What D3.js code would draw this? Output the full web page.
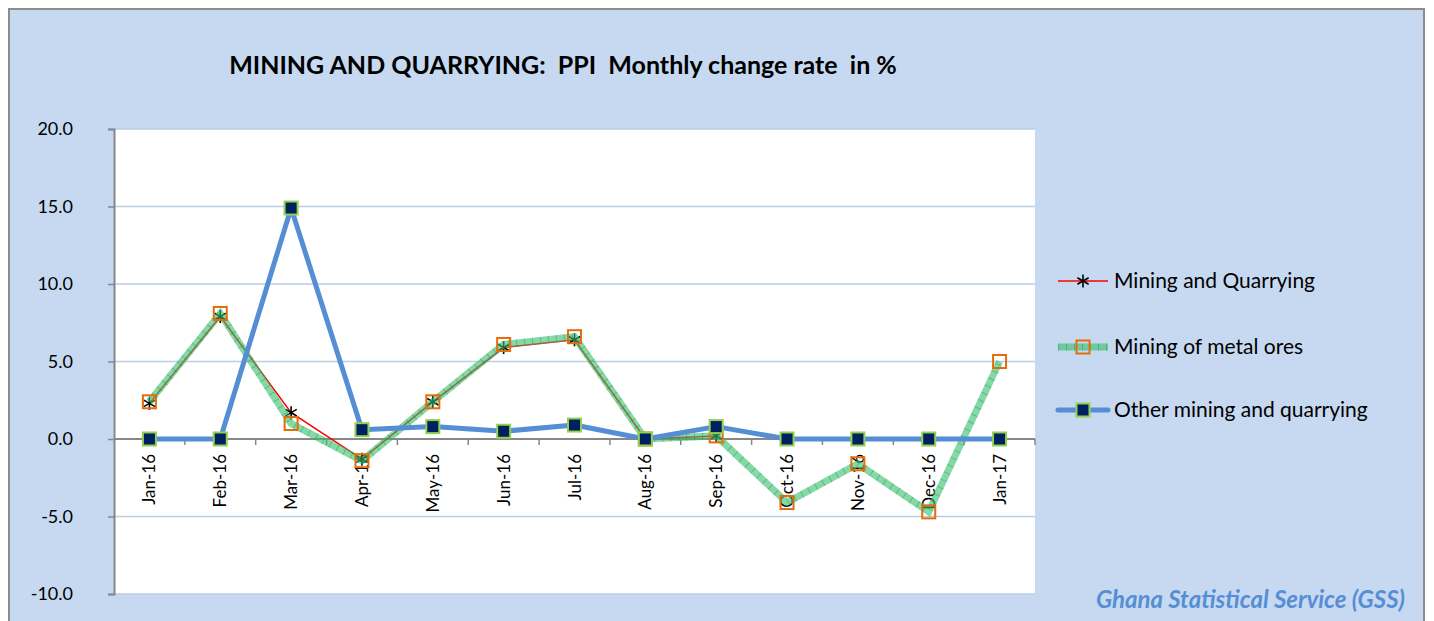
<!DOCTYPE html>
<html lang="en">
<head>
<meta charset="utf-8"/>
<script src="https://d3js.org/d3.v7.min.js"></script>
<style>
  body { margin:0; background:#fff; }
  text { font-family: Lato, "Open Sans", sans-serif; }
</style>
</head>
<body>
<svg id="chart" width="1434" height="621"></svg>
<script>
const months = ["Jan-16","Feb-16","Mar-16","Apr-16","May-16","Jun-16","Jul-16","Aug-16","Sep-16","Oct-16","Nov-16","Dec-16","Jan-17"];
const miningQuarrying = [2.3, 7.9, 1.7, -1.3, 2.4, 5.9, 6.4, 0.0, 0.2, null, null, null, null];
const metalOres = [2.4, 8.1, 1.0, -1.4, 2.4, 6.1, 6.6, 0.0, 0.2, -4.1, -1.6, -4.7, 5.0];
const otherMining = [0.0, 0.0, 14.9, 0.6, 0.8, 0.5, 0.9, 0.0, 0.8, 0.0, 0.0, 0.0, 0.0];
const yTicks = [-10, -5, 0, 5, 10, 15, 20];
const seriesNames = ["Mining and Quarrying", "Mining of metal ores", "Other mining and quarrying"];

const svg = d3.select("#chart");

// outer frame
svg.append("rect").attr("x",9).attr("y",9).attr("width",1415).attr("height",640)
  .style("fill","#C6D9F0").style("stroke","#8c8c8c").style("stroke-width",2);

const plotLeft = 114, plotRight = 1035, plotTop = 129, plotBottom = 594;
svg.append("rect").attr("x",plotLeft).attr("y",plotTop)
  .attr("width",plotRight-plotLeft).attr("height",plotBottom-plotTop)
  .style("fill","white");

const x = d3.scaleBand().domain(months).range([plotLeft, plotRight]);
const y = d3.scaleLinear().domain([-10, 20]).range([plotBottom, plotTop]);
const cx = d => x(d) + x.bandwidth()/2;

// gridlines
svg.selectAll(".grid").data(yTicks.filter(t => t !== 0)).enter()
  .append("line")
  .attr("x1",plotLeft).attr("x2",plotRight)
  .attr("y1",d => y(d)).attr("y2",d => y(d))
  .style("stroke","#B9CDE5").style("stroke-width",1.5);

// y axis
const yAxis = svg.append("g").attr("transform","translate("+plotLeft+",0)")
  .call(d3.axisLeft(y).tickValues(yTicks).tickFormat(d => d.toFixed(1)).tickSize(6).tickPadding(35));
yAxis.select(".domain").style("stroke","#878787").style("stroke-width",2);
yAxis.selectAll(".tick line").style("stroke","#878787").style("stroke-width",1.5);
yAxis.selectAll(".tick text").style("font-size","18px").style("fill","#000")
  .style("font-family","Lato, 'Open Sans', sans-serif");

// zero line with category ticks
svg.append("line").attr("x1",plotLeft).attr("x2",plotRight)
  .attr("y1",y(0)).attr("y2",y(0))
  .style("stroke","#878787").style("stroke-width",2);
svg.selectAll(".xtick").data(months).enter()
  .append("line")
  .attr("x1",(d,i) => plotLeft + (i+1)*x.step()).attr("x2",(d,i) => plotLeft + (i+1)*x.step())
  .attr("y1",y(0)).attr("y2",y(0)+6)
  .style("stroke","#878787").style("stroke-width",1.5);

// x labels
svg.selectAll(".xlab").data(months).enter()
  .append("text")
  .attr("transform",d => "translate("+(cx(d)+6)+","+(y(0)+15)+") rotate(-90)")
  .attr("text-anchor","end")
  .style("font-size","17px")
  .text(d => d);

const line = d3.line().defined(d => d !== null).x((d,i) => cx(months[i])).y(d => y(d));

// series 1: red line with asterisks
svg.append("path").datum(miningQuarrying).attr("d",line)
  .style("fill","none").style("stroke","#FF0000").style("stroke-width",1.5);

function asterisk(g, px, py, r) {
  [0, 60, 120].forEach(a => {
    const rad = a * Math.PI / 180;
    g.append("line")
      .attr("x1", px - r*Math.sin(rad)).attr("y1", py - r*Math.cos(rad))
      .attr("x2", px + r*Math.sin(rad)).attr("y2", py + r*Math.cos(rad))
      .style("stroke","#000").style("stroke-width",1.6);
  });
}
const astG = svg.append("g");
miningQuarrying.forEach((v,i) => { if (v !== null) asterisk(astG, cx(months[i]), y(v), 6.5); });

// series 2: green thick hatched line
svg.append("path").datum(metalOres).attr("d",line)
  .style("fill","none").style("stroke","#35C06C").style("stroke-opacity",0.6).style("stroke-width",7);
svg.append("path").datum(metalOres).attr("d",line)
  .style("fill","none").style("stroke","#24964F").style("stroke-opacity",0.45)
  .style("stroke-width",7).style("stroke-dasharray","1,7");

// orange hollow squares
svg.selectAll(".sq2").data(metalOres).enter()
  .append("rect")
  .attr("x",(d,i) => cx(months[i]) - 6.5).attr("y",d => y(d) - 6.5)
  .attr("width",13).attr("height",13)
  .style("fill","none").style("stroke","#E46C0A").style("stroke-width",2);

// series 3: blue line with navy squares
svg.append("path").datum(otherMining).attr("d",line)
  .style("fill","none").style("stroke","#558ED5").style("stroke-width",5)
  .style("stroke-linejoin","round");
svg.selectAll(".sq3").data(otherMining).enter()
  .append("rect")
  .attr("x",(d,i) => cx(months[i]) - 6.5).attr("y",d => y(d) - 6.5)
  .attr("width",13).attr("height",13)
  .style("fill","#002060").style("stroke","#92D050").style("stroke-width",2);

// title
svg.append("text").attr("x",563).attr("y",74).attr("text-anchor","middle")
  .style("font-size","25px").style("font-weight","bold")
  .style("white-space","pre")
  .text("MINING AND QUARRYING:  PPI  Monthly change rate  in %");

// legend
const legY = [281, 347, 410];
const lg = svg.append("g");
lg.append("line").attr("x1",1058).attr("x2",1108).attr("y1",legY[0]).attr("y2",legY[0])
  .style("stroke","#FF0000").style("stroke-width",1.5);
asterisk(lg, 1083, legY[0], 6.5);
lg.append("line").attr("x1",1058).attr("x2",1108).attr("y1",legY[1]).attr("y2",legY[1])
  .style("stroke","#35C06C").style("stroke-opacity",0.6).style("stroke-width",7);
lg.append("line").attr("x1",1058).attr("x2",1108).attr("y1",legY[1]).attr("y2",legY[1])
  .style("stroke","#24964F").style("stroke-opacity",0.45).style("stroke-width",7).style("stroke-dasharray","1,7");
lg.append("rect").attr("x",1076.5).attr("y",legY[1]-6.5).attr("width",13).attr("height",13)
  .style("fill","none").style("stroke","#E46C0A").style("stroke-width",2);
lg.append("line").attr("x1",1058).attr("x2",1108).attr("y1",legY[2]).attr("y2",legY[2])
  .style("stroke","#558ED5").style("stroke-width",5).style("stroke-linecap","round");
lg.append("rect").attr("x",1076.5).attr("y",legY[2]-6.5).attr("width",13).attr("height",13)
  .style("fill","#002060").style("stroke","#92D050").style("stroke-width",2);
lg.selectAll(".lt").data(seriesNames).enter()
  .append("text")
  .attr("x",1114).attr("y",(d,i) => legY[i] + 7)
  .style("font-size","21px")
  .text(d => d);

// source note
svg.append("text").attr("x",1405).attr("y",608).attr("text-anchor","end")
  .style("font-size","24px").style("font-weight","bold").style("font-style","italic")
  .style("fill","#558ED5")
  .text("Ghana Statistical Service (GSS)");
</script>
</body>
</html>
